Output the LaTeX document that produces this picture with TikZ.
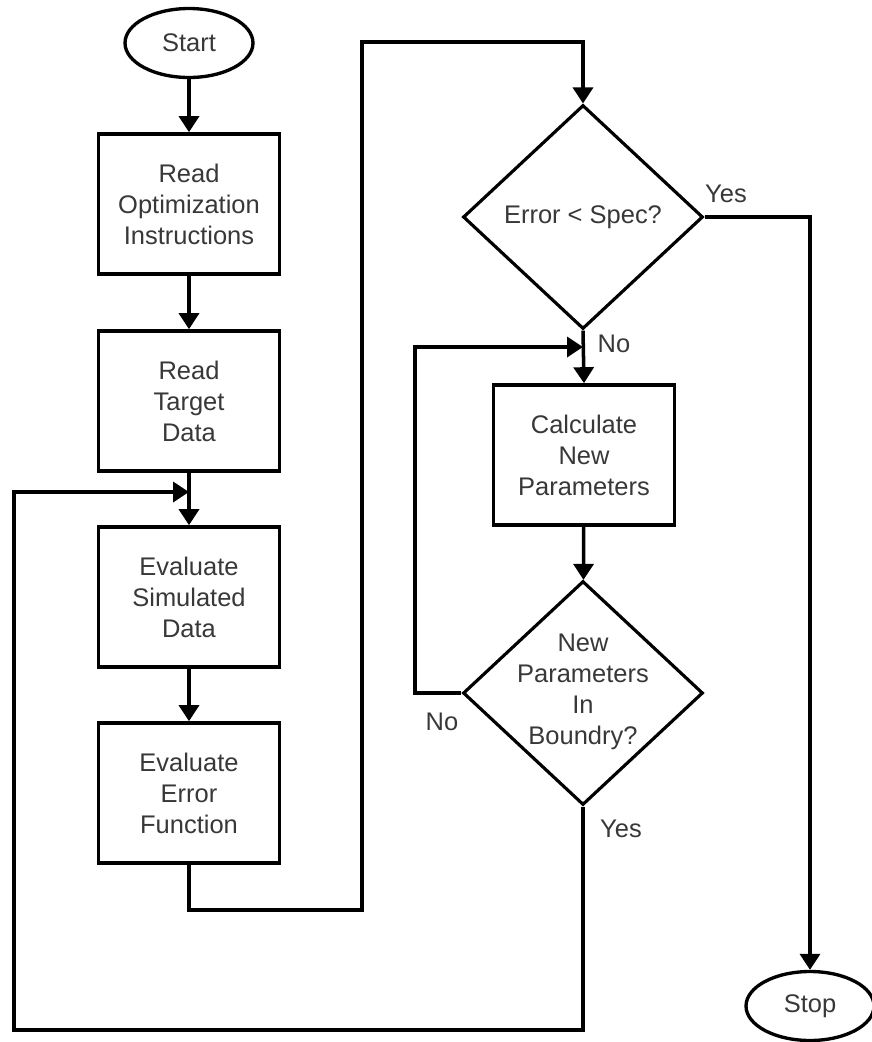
\documentclass[tikz,border=0pt]{standalone}
\usepackage{fontspec}
\setmainfont{Liberation Sans}
\usetikzlibrary{shapes,arrows.meta,positioning}
\definecolor{txtgray}{HTML}{383838}

\begin{document}
\begin{tikzpicture}[x=0.02cm,y=-0.02cm,
  every node/.style={text=txtgray,font=\fontsize{14.5}{17.6}\selectfont},
  box/.style={draw=black,line width=2.1pt,minimum width=3.62cm,minimum height=2.8cm,align=center,inner sep=0pt},
  term/.style={draw=black,ellipse,line width=1.9pt,minimum width=2.56cm,minimum height=1.38cm,inner sep=0pt},
  decision/.style={draw=black,diamond,line width=1.8pt,minimum width=4.8cm,minimum height=4.48cm,inner sep=0pt},
  arr/.style={line width=2pt,-{Triangle[width=0.4cm,length=0.32cm]}}]

\useasboundingbox (0,0) rectangle (872,1042);

% left column
\node[term] (start) at (189,43) {Start};
\node[box] (readopt) at (189,204) {Read\\Optimization\\Instructions};
\node[box] (readtgt) at (189,401) {Read\\Target\\Data};
\node[box] (evalsim) at (189,597) {Evaluate\\Simulated\\Data};
\node[box] (evalerr) at (189,793) {Evaluate\\Error\\Function};

% right column
\node[decision] (spec) at (583,217) {Error < Spec?};
\node[box] (calc) at (584,455) {Calculate\\New\\Parameters};
\node[decision] (bound) at (583,693) {};
\node[align=center,inner sep=0pt] (boundtxt) at (583,692) {New\\Parameters\\In\\Boundry?};
\node[term] (stop) at (810,1006) {Stop};

\draw[arr] (start) -- (readopt);
\draw[arr] (readopt) -- (readtgt);
\draw[arr] (readtgt) -- (evalsim);
\draw[arr] (evalsim) -- (evalerr);

\coordinate (errdown) at (362,910);
\coordinate (errtop) at (362,42);
\draw[arr] (evalerr.south) |- (errdown) -- (errtop) -| (spec.north);

\draw[arr] (spec.east) -| (stop.north);
\draw[arr] (spec.south) -- (calc.north);
\draw[arr] (calc) -- (bound);

\coordinate (nocorner) at (415,347);
\coordinate (nojoin) at (583,347);
\draw[arr] (bound.west) -| (nocorner) -- (nojoin);

\coordinate (yescorner) at (14,1030);
\coordinate (loopjoin) at (189,492);
\draw[arr] (bound.south) |- (yescorner) |- (loopjoin);

\node (yesspec) at (726,194) {Yes};
\node (nospec) at (614,344) {No};
\node (nobound) at (442,722) {No};
\node (yesbound) at (621,829) {Yes};
\end{tikzpicture}
\end{document}
